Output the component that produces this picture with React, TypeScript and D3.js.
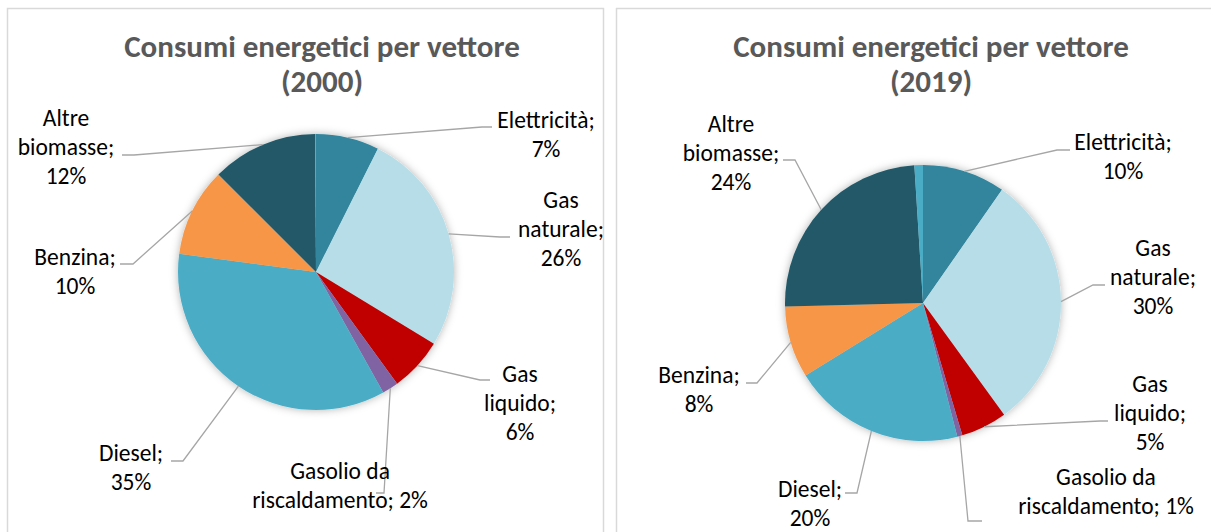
import React from "react";
import * as d3 from "d3";

// ---- data ----
const categories = [
  "Elettricità",
  "Gas naturale",
  "Gas liquido",
  "Gasolio da riscaldamento",
  "Diesel",
  "Benzina",
  "Altre biomasse",
  "Altro",
];
const values2000 = [7.4, 26.3, 6.3, 1.9, 35.2, 10.4, 12.4, 0.1];
const values2019 = [9.7, 30.3, 5.4, 0.6, 20.2, 8.4, 24.4, 1.0];
const years = ["2000", "2019"];
const titleText = "Consumi energetici per vettore";
// label line breaking (text before the percentage)
const labelLines = [
  ["Elettricità;"],
  ["Gas", "naturale;"],
  ["Gas", "liquido;"],
  ["Gasolio da", "riscaldamento;"],
  ["Diesel;"],
  ["Benzina;"],
  ["Altre", "biomasse;"],
  null,
];

// ---- styles / layout ----
const colors = [
  "#31859C",
  "#B7DEE8",
  "#C00000",
  "#8064A2",
  "#4BACC6",
  "#F79646",
  "#215968",
  "#4BACC6",
];
const FONT = "Carlito, Lato, 'Open Sans', sans-serif";
const R = 138;
const LINE_H = 29;

type LabelLayout = { tx: number; ty: number; e1: [number, number]; e2: [number, number]; inline?: boolean };

const charts = [
  {
    values: values2000,
    year: years[0],
    frameX: 7.5,
    cx: 316,
    cy: 272,
    titleX: 322,
    layout: [
      { tx: 230, ty: -144, e1: [166, -145], e2: [176, -145] },
      { tx: 245, ty: -64, e1: [184, -35], e2: [194, -35] },
      { tx: 204, ty: 110, e1: [164, 108], e2: [174, 108] },
      { tx: 24, ty: 207, e1: [68, 221], e2: [60, 221], inline: true },
      { tx: -185, ty: 189, e1: [-133, 189], e2: [-145, 189] },
      { tx: -241, ty: -7, e1: [-183, -8], e2: [-196, -8] },
      { tx: -250, ty: -146, e1: [-182, -117], e2: [-194, -117] },
    ] as LabelLayout[],
  },
  {
    values: values2019,
    year: years[1],
    frameX: 616.5,
    cx: 923,
    cy: 303,
    titleX: 931,
    layout: [
      { tx: 200, ty: -153, e1: [134, -153], e2: [147, -153] },
      { tx: 230, ty: -47, e1: [170, -18], e2: [182, -18] },
      { tx: 227, ty: 89, e1: [177, 118], e2: [185, 118] },
      { tx: 183, ty: 182, e1: [45, 218], e2: [59, 218], inline: true },
      { tx: -113, ty: 194, e1: [-66, 190], e2: [-78, 190] },
      { tx: -224, ty: 80, e1: [-166, 80], e2: [-177, 80] },
      { tx: -192, ty: -171, e1: [-128, -143], e2: [-140, -143] },
    ] as LabelLayout[],
  },
];

function PieChart({ chart }: { chart: (typeof charts)[number] }) {
  const total = d3.sum(chart.values);
  const data = chart.values.map((v, i) => ({ v, i }));
  const pie = d3
    .pie<{ v: number; i: number }>()
    .sort(null)
    .value((d) => d.v);
  const arcs = pie(data);
  const arc = d3.arc<d3.PieArcDatum<{ v: number; i: number }>>().innerRadius(0).outerRadius(R);
  const pct = (v: number) => `${Math.round((v / total) * 100)}%`;

  return (
    <g>
      <text
        x={chart.titleX}
        y={57}
        textAnchor="middle"
        fontFamily={FONT}
        fontWeight="bold"
        fontSize={31}
        fill="#595959"
      >
        {titleText}
      </text>
      <text
        x={chart.titleX}
        y={92}
        textAnchor="middle"
        fontFamily={FONT}
        fontWeight="bold"
        fontSize={31}
        fill="#595959"
      >
        ({chart.year})
      </text>
      <g transform={`translate(${chart.cx},${chart.cy})`}>
        <g filter="url(#pieShadow)">
          {arcs.map((a) => (
            <path key={a.data.i} d={arc(a) || ""} fill={colors[a.data.i]} />
          ))}
        </g>
        {arcs.map((a) => {
          const lay = chart.layout[a.data.i];
          const lines = labelLines[a.data.i];
          if (!lay || !lines) return null;
          const mid = (a.startAngle + a.endAngle) / 2;
          const sx = R * Math.sin(mid);
          const sy = -R * Math.cos(mid);
          const textLines = lay.inline
            ? [lines[0], `${lines[1]} ${pct(a.data.v)}`]
            : [...lines, pct(a.data.v)];
          return (
            <g key={"l" + a.data.i}>
              <polyline
                points={`${sx},${sy} ${lay.e1[0]},${lay.e1[1]} ${lay.e2[0]},${lay.e2[1]}`}
                fill="none"
                stroke="#A6A6A6"
                strokeWidth={1.3}
              />
              <text textAnchor="middle" fontFamily={FONT} fontSize={23.5} fill="#000">
                {textLines.map((t, k) => (
                  <tspan key={k} x={lay.tx} y={lay.ty + k * LINE_H}>
                    {t}
                  </tspan>
                ))}
              </text>
            </g>
          );
        })}
      </g>
    </g>
  );
}

export default function App() {
  return (
    <svg
      width={1211}
      height={532}
      style={{ position: "absolute", left: 0, top: 0, display: "block", background: "#fff" }}
    >
      <defs>
        <filter id="pieShadow" x="-20%" y="-20%" width="140%" height="140%">
          <feDropShadow dx="0" dy="0" stdDeviation="4" floodColor="#000" floodOpacity="0.3" />
        </filter>
      </defs>
      <rect x={0} y={0} width={1211} height={532} fill="#fff" />
      {charts.map((c) => (
        <rect
          key={"f" + c.year}
          x={c.frameX}
          y={8.5}
          width={596}
          height={540}
          fill="none"
          stroke="#D9D9D9"
          strokeWidth={1.5}
        />
      ))}
      {charts.map((c) => (
        <PieChart key={c.year} chart={c} />
      ))}
    </svg>
  );
}
